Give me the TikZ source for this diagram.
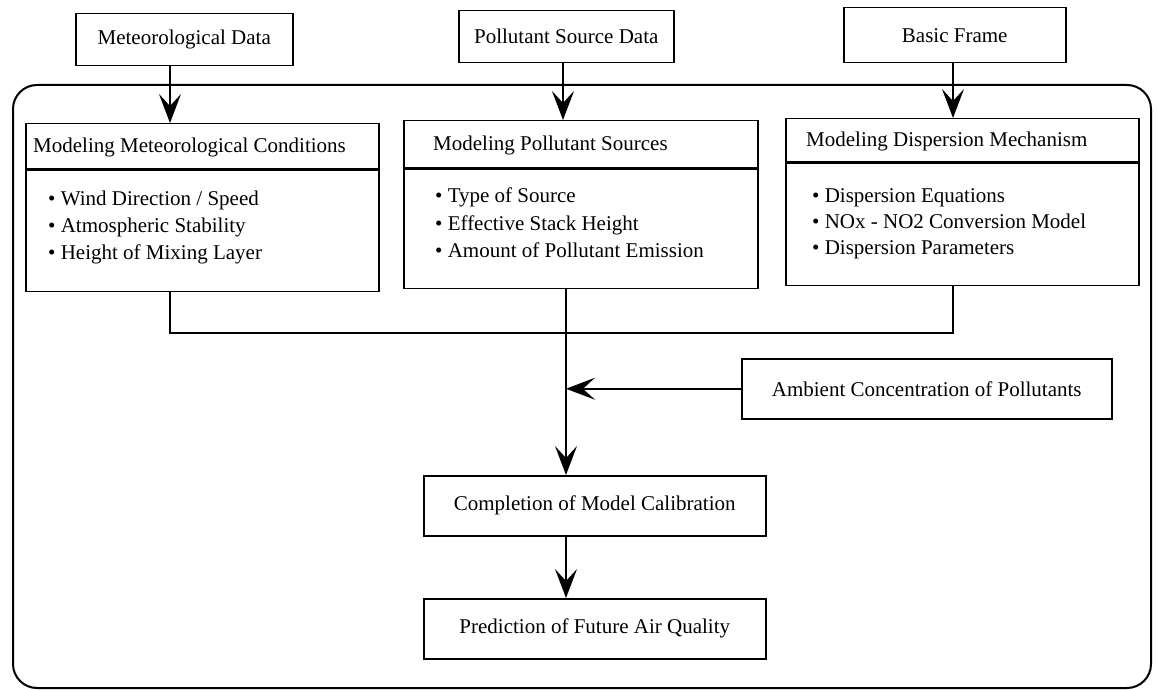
\documentclass[tikz,border=0pt]{standalone}
\usepackage{fontspec}
\setmainfont{Liberation Serif}
\usetikzlibrary{arrows.meta,calc}
\begin{document}
\begin{tikzpicture}[x=1pt,y=-1pt,
  box/.style={draw,line width=1.5pt,inner sep=0pt,anchor=north west},
  txt/.style={inner sep=0pt,font=\fontsize{21pt}{27pt}\selectfont},
  ltxt/.style={txt,anchor=base west},
  arr/.style={line width=1.5pt,-{Stealth[length=29pt,width=22pt,inset=12pt]}},
  ln/.style={line width=1.5pt}]
\useasboundingbox (0,0) rectangle (1157,690);
% outer frame
\node[draw,line width=2pt,rounded corners=24pt,inner sep=0pt,anchor=north west,
      minimum width=1138pt,minimum height=603pt] (frame) at (12,84) {};
% top input boxes
\node[box,minimum width=217pt,minimum height=52pt] (md) at (75,13) {};
\node[txt] at (md.center) {Meteorological Data};
\node[box,minimum width=215pt,minimum height=52pt] (psd) at (458,10) {};
\node[txt] at (psd.center) {Pollutant Source Data};
\node[box,minimum width=222pt,minimum height=55pt] (bf) at (843,7) {};
\node[txt] at (bf.center) {Basic Frame};
% modeling boxes
\node[box,minimum width=353pt,minimum height=45pt] (m1h) at (25,123) {};
\node[box,minimum width=353pt,minimum height=121pt] (m1b) at (m1h.south west) {};
\node[ltxt] (m1t) at (33,153) {Modeling Meteorological Conditions};
\node[ltxt] (m1a) at (48,205) {• Wind Direction / Speed};
\node[ltxt] (m1c) at (48,232) {• Atmospheric Stability};
\node[ltxt] (m1d) at (48,259) {• Height of Mixing Layer};
\node[box,minimum width=354pt,minimum height=47pt] (m2h) at (403,120) {};
\node[box,minimum width=354pt,minimum height=119pt] (m2b) at (m2h.south west) {};
\node[ltxt] (m2t) at (433,151) {Modeling Pollutant Sources};
\node[ltxt] (m2a) at (435,203) {• Type of Source};
\node[ltxt] (m2c) at (435,230) {• Effective Stack Height};
\node[ltxt] (m2d) at (435,257) {• Amount of Pollutant Emission};
\node[box,minimum width=353pt,minimum height=43pt] (m3h) at (785,118) {};
\node[box,minimum width=353pt,minimum height=122pt] (m3b) at (m3h.south west) {};
\node[ltxt] (m3t) at (806,147) {Modeling Dispersion Mechanism};
\node[ltxt] (m3a) at (812,202) {• Dispersion Equations};
\node[ltxt] (m3c) at (812,228) {• NOx - NO2 Conversion Model};
\node[ltxt] (m3d) at (812,254) {• Dispersion Parameters};
% ambient, completion, prediction
\node[box,minimum width=370pt,minimum height=60pt] (amb) at (741,358) {};
\node[txt] at (amb.center) {Ambient Concentration of Pollutants};
\node[box,minimum width=342pt,minimum height=60pt] (comp) at (423,475) {};
\node[txt] at (comp.center) {Completion of Model Calibration};
\node[box,minimum width=342pt,minimum height=60pt] (pred) at (423,598) {};
\node[txt] at (pred.center) {Prediction of Future Air Quality};
% connector columns
\coordinate (c1) at (170,0);
\coordinate (c2) at (563,0);
\coordinate (c3) at (953,0);
\coordinate (cx) at (566,0);
\coordinate (hy) at (0,333);
\coordinate (l1) at (c1 |- hy);
\coordinate (r3) at (c3 |- hy);
% connectors
\draw[arr] (md.south -| c1) -- (m1h.north -| c1);
\draw[arr] (psd.south -| c2) -- (m2h.north -| c2);
\draw[arr] (bf.south -| c3) -- (m3h.north -| c3);
\draw[ln] (m1b.south -| c1) -- (l1) -- (r3) -- (m3b.south -| c3);
\draw[arr] (m2b.south -| cx) -- (comp.north -| cx);
\draw[arr] (amb.west) -- (amb.west -| cx);
\draw[arr] (comp.south -| cx) -- (pred.north -| cx);
\end{tikzpicture}
\end{document}
